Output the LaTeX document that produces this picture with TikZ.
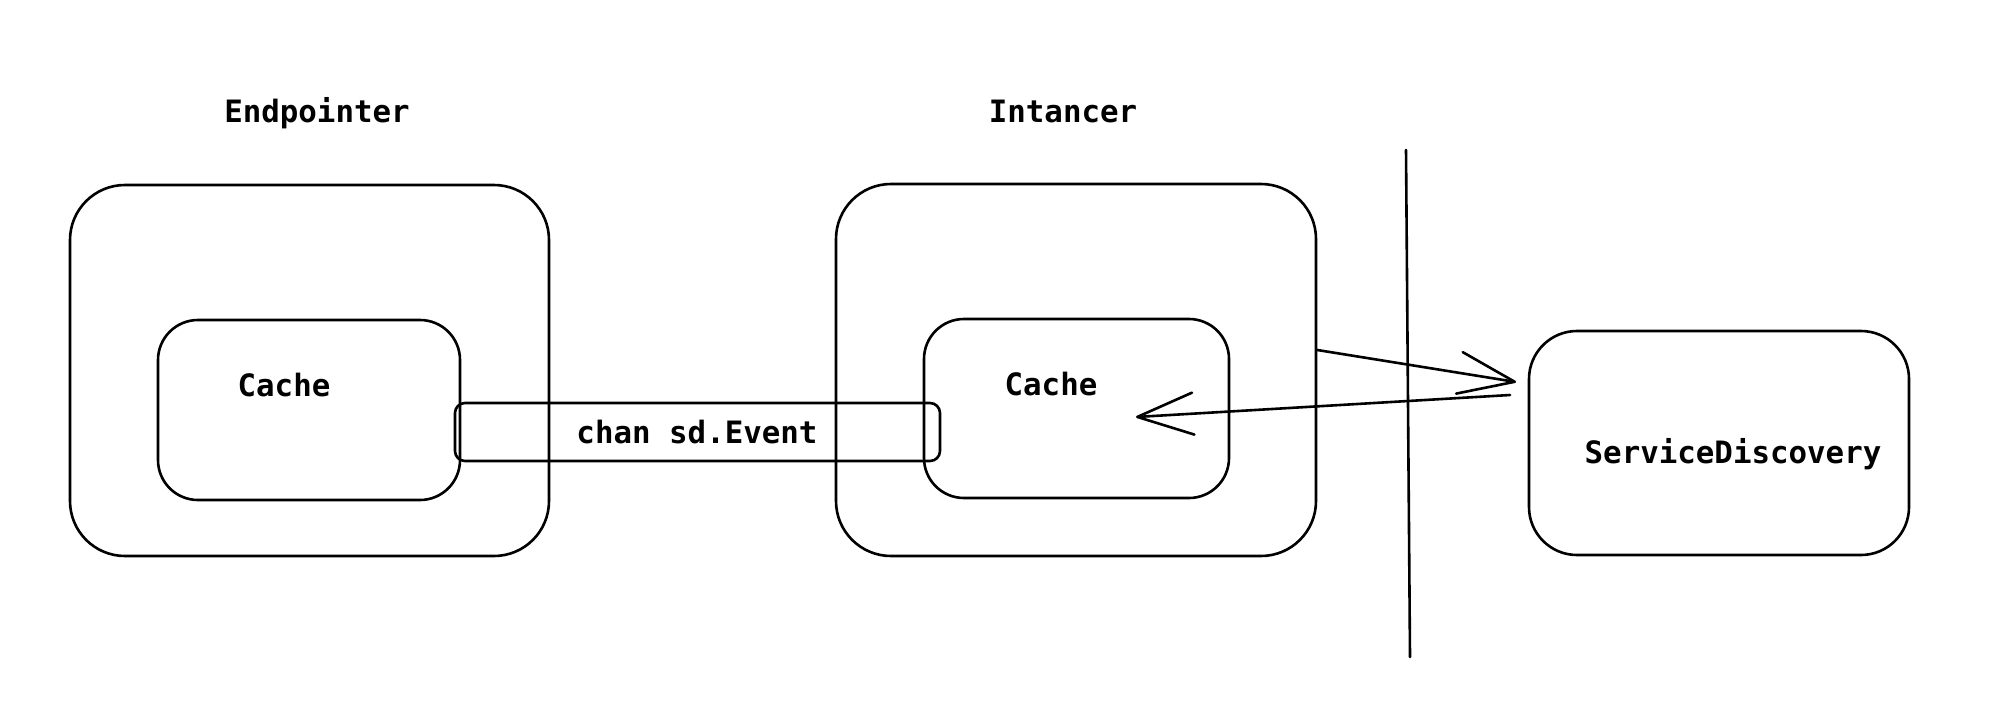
\documentclass[tikz,border=0pt]{standalone}
\usepackage{fontspec}
\newfontfamily\sketchmono{DejaVu Sans Mono}
\usetikzlibrary{arrows.meta}
\begin{document}
\begin{tikzpicture}[x=1pt,y=-1pt,
  sk/.style={line width=2.6pt, line cap=round, line join=round, black},
  box/.style={sk, draw, rectangle, inner sep=0pt},
  lbl/.style={inner sep=0pt, anchor=base, font=\sketchmono\bfseries\fontsize{30.8}{37}\selectfont},
  arr/.style={sk, -{Straight Barb[length=56pt, width=42pt, round]}}
]
\useasboundingbox (0,0) rectangle (1994,710);

% Endpointer
\node[lbl] (ept) at (317,122) {Endpointer};
\node[box, minimum width=479pt, minimum height=371pt, rounded corners=55pt] (outer1) at (309.5,370.5) {};
\node[box, minimum width=302pt, minimum height=180pt, rounded corners=40pt] (inner1) at (309,410) {};
\node[lbl] (cache1) at (284,396) {Cache};

% Intancer
\node[lbl] (int) at (1063,122) {Intancer};
\node[box, minimum width=480pt, minimum height=372pt, rounded corners=55pt] (outer2) at (1076,370) {};
\node[box, minimum width=305pt, minimum height=179pt, rounded corners=40pt] (inner2) at (1076.5,408.5) {};
\node[lbl] (cache2) at (1051,395) {Cache};

% channel
\node[box, minimum width=485pt, minimum height=58pt, rounded corners=10pt] (chan) at (697.5,432) {};
\node[lbl] (chanlbl) at (697,443) {chan sd.Event};

% boundary line
\coordinate (vtop) at (1406,150);
\coordinate (vbot) at (1410,657);
\draw[sk] (vtop) -- (vbot);

% Service discovery
\node[box, minimum width=380pt, minimum height=224pt, rounded corners=48pt] (sd) at (1719,443) {};
\node[lbl] (sdlbl) at (1733,463) {ServiceDiscovery};

% arrows
\coordinate (a1s) at (outer2.east |- 0,350);
\coordinate (a1e) at (1516,382);
\draw[arr] (a1s) -- (a1e);
\coordinate (a2s) at (1510,395);
\coordinate (a2e) at (1136,417);
\draw[arr] (a2s) -- (a2e);
\end{tikzpicture}
\end{document}
